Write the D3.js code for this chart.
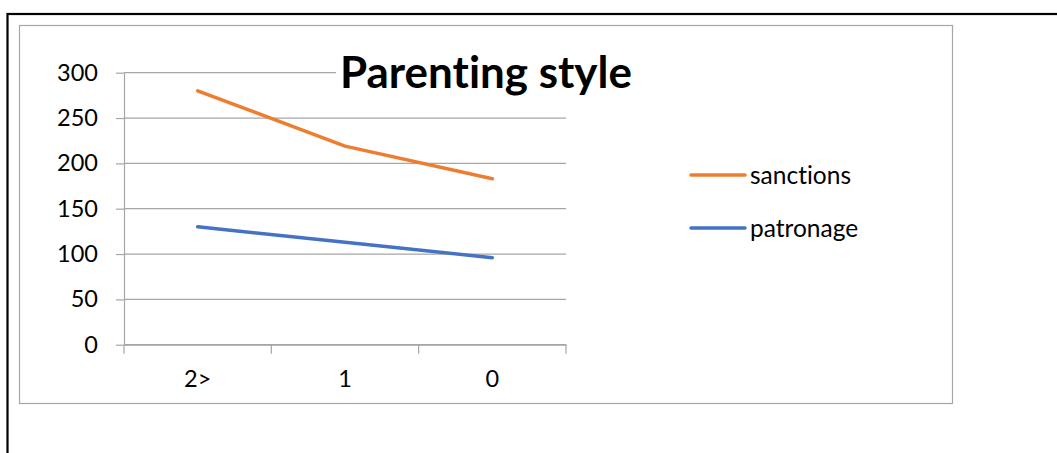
<!DOCTYPE html>
<html>
<head>
<meta charset="utf-8">
<script src="https://cdn.jsdelivr.net/npm/d3@7"></script>
<style>
  html, body { margin: 0; padding: 0; background: #fff; overflow: hidden; }
  svg { display: block; }
  text { font-family: Lato, "Open Sans", "Liberation Sans", sans-serif; fill: #000;
         font-variant-ligatures: none; font-feature-settings: "liga" 0, "clig" 0; }
</style>
</head>
<body>
<svg id="chart" width="1057" height="453"></svg>
<script>
// Categories along the x axis
const categories = ["2>", "1", "0"];
// Series values per category
const sanctions = [280, 219, 183];
const patronage = [130, 113, 96];
// Y axis tick values
const yTicks = [0, 50, 100, 150, 200, 250, 300];
const titleText = "Parenting style";

const series = [
  { name: "sanctions", values: sanctions, color: "#ED7D31" },
  { name: "patronage", values: patronage, color: "#4472C4" }
];

const svg = d3.select("#chart");
const W = 1057, H = 453;
const labelFont = 23.5;

// Outer page frame (continues past the right and bottom edges)
svg.append("rect")
  .attr("x", 7.5).attr("y", 14)
  .attr("width", W + 20).attr("height", H + 20)
  .attr("fill", "none").attr("stroke", "#000").attr("stroke-width", 2.2);

// Chart area border
svg.append("rect")
  .attr("x", 19.5).attr("y", 25.5)
  .attr("width", 933).attr("height", 378)
  .attr("fill", "#fff").attr("stroke", "#a6a6a6").attr("stroke-width", 1.2);

// Plot area
const plot = { left: 124, right: 566, top: 72.7, bottom: 344.7 };

const x = d3.scaleBand().domain(categories).range([plot.left, plot.right]).padding(0);
const y = d3.scaleLinear().domain([0, 300]).range([plot.bottom, plot.top]);

const gridColor = "#a6a6a6";

// Horizontal gridlines
svg.append("g")
  .selectAll("line")
  .data(yTicks)
  .join("line")
  .attr("x1", plot.left).attr("x2", plot.right)
  .attr("y1", d => y(d)).attr("y2", d => y(d))
  .attr("stroke", gridColor).attr("stroke-width", 1.2);

// Y axis
const yAxis = svg.append("g")
  .attr("transform", `translate(${plot.left},0)`)
  .call(d3.axisLeft(y).tickValues(yTicks).tickSize(8).tickPadding(18).tickSizeOuter(0));
yAxis.select(".domain").attr("stroke", gridColor).attr("stroke-width", 1.2);
yAxis.selectAll(".tick line").attr("stroke", gridColor).attr("stroke-width", 1.2);
yAxis.selectAll(".tick text")
  .attr("font-family", "Lato, 'Open Sans', sans-serif")
  .attr("font-size", labelFont).attr("fill", "#000");

// X axis with ticks at category boundaries
const xAxis = svg.append("g")
  .attr("transform", `translate(0,${plot.bottom})`)
  .call(d3.axisBottom(x).tickSize(0).tickPadding(26).tickSizeOuter(0));
xAxis.select(".domain").attr("stroke", gridColor).attr("stroke-width", 1.2);
xAxis.selectAll(".tick text")
  .attr("font-family", "Lato, 'Open Sans', sans-serif")
  .attr("font-size", labelFont).attr("fill", "#000");

const boundaries = categories.map(c => x(c)).concat([x(categories[categories.length - 1]) + x.bandwidth()]);
svg.append("g")
  .selectAll("line")
  .data(boundaries)
  .join("line")
  .attr("x1", d => d).attr("x2", d => d)
  .attr("y1", plot.bottom).attr("y2", plot.bottom + 9)
  .attr("stroke", gridColor).attr("stroke-width", 1.2);

// Series lines
const line = d3.line()
  .x((d, i) => x(categories[i]) + x.bandwidth() / 2)
  .y(d => y(d));

svg.append("g")
  .selectAll("path")
  .data(series)
  .join("path")
  .attr("d", d => line(d.values))
  .attr("fill", "none")
  .attr("stroke", d => d.color)
  .attr("stroke-width", 3.5)
  .attr("stroke-linecap", "round")
  .attr("stroke-linejoin", "round");

// Title with a white backing that hides the gridline behind it
const titleG = svg.append("g");
const titleBg = titleG.append("rect").attr("fill", "#fff");
const title = titleG.append("text")
  .attr("x", 486).attr("y", 88)
  .attr("text-anchor", "middle")
  .attr("font-weight", "bold")
  .attr("font-size", 37)
  .text(titleText);
// Fit the title to its intended width
const targetTitleW = 292;
const tw = title.node().getComputedTextLength();
title.attr("font-size", 37 * targetTitleW / tw);
const tb = title.node().getBBox();
titleBg.attr("x", tb.x - 4).attr("y", tb.y).attr("width", tb.width + 8).attr("height", tb.height);

// Legend
const legend = svg.append("g");
const legendRows = legend.selectAll("g")
  .data(series)
  .join("g")
  .attr("transform", (d, i) => `translate(691,${175 + i * 53})`);
legendRows.append("line")
  .attr("x1", 0).attr("x2", 54)
  .attr("y1", 0).attr("y2", 0)
  .attr("stroke", d => d.color)
  .attr("stroke-width", 3.5)
  .attr("stroke-linecap", "round");
legendRows.append("text")
  .attr("x", 59).attr("y", 8.5)
  .attr("font-size", 24.5)
  .text(d => d.name);
</script>
</body>
</html>
